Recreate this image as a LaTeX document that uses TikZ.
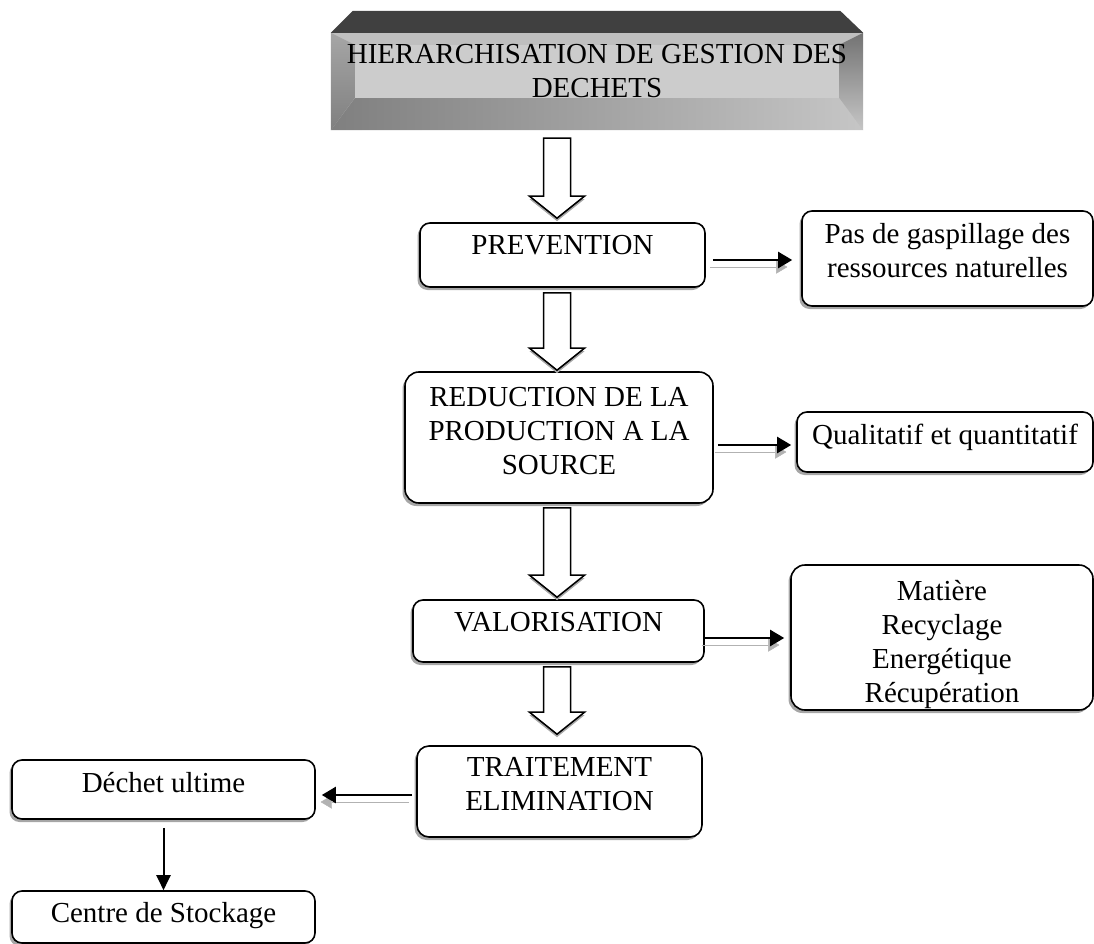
\documentclass[tikz,border=0pt]{standalone}
\usepackage{fontspec}
\setmainfont{Liberation Serif}
\usetikzlibrary{positioning, calc, arrows.meta, shadows, backgrounds}

\tikzset{
	stage/.style={draw, fill=white, line width=1.6pt, rounded corners=10pt, inner sep=0pt,
		drop shadow={shadow xshift=-2.5pt, shadow yshift=-3pt, opacity=1, fill=gray!70}},
	txt/.style={anchor=north, align=center, inner sep=0pt, yshift=-12.5pt},
	flow/.style={line width=2.2pt, -{Triangle[length=14pt, width=16pt]},
		preaction={draw=gray!60, transform canvas={shift={(-3pt,-7pt)}}}},
}

\begin{document}
\begin{tikzpicture}[x=1pt, y=-1pt, font={\fontsize{29}{34}\selectfont}]
\useasboundingbox (0,0) rectangle (1094,944);
% title
\node[minimum width=532pt, minimum height=97pt, inner sep=0pt,
	label={[txt, yshift=1.5pt]north:HIERARCHISATION DE GESTION DES\\DECHETS}] (title) at (597,81.5) {};
\begin{scope}[on background layer]
	\fill[gray!50] (title.north west) rectangle (title.south east);
	\fill[gray!40] ($(title.north west)+(24,12)$) rectangle ($(title.south east)+(-24,-32)$);
	\shade[top color=gray!70, bottom color=black!50] (title.north west) -- ++(24,12) -- ++(0,53) -- (title.south west) -- cycle;
	\shade[left color=black!50, right color=gray!45] (title.south west) -- ++(24,-32) -- ($(title.south east)+(-24,-32)$) -- (title.south east) -- cycle;
	\shade[top color=black!55, bottom color=gray!45] (title.north east) -- ++(-24,12) -- ++(0,53) -- (title.south east) -- cycle;
	\fill[black!75] (title.north west) -- ++(22,-22) -- ($(title.north east)+(-23,-22)$) -- (title.north east) -- cycle;
\end{scope}

% main column
\node[stage, minimum width=285pt, minimum height=64pt, label={[txt]north:PREVENTION}] (prev) at (562.5,255) {};
\node[stage, rounded corners=14pt, minimum width=308pt, minimum height=131pt,
	label={[txt, yshift=-3.5pt]north:REDUCTION DE LA\\PRODUCTION A LA\\SOURCE}] (red) at (559,437.5) {};
\node[stage, minimum width=291pt, minimum height=62pt, label={[txt]north:VALORISATION}] (val) at (558.5,631) {};
\node[stage, rounded corners=12pt, minimum width=285pt, minimum height=91pt,
	label={[txt, yshift=0.5pt]north:TRAITEMENT\\ELIMINATION}] (trait) at (559.5,791.5) {};

% right column
\node[stage, minimum width=291pt, minimum height=95pt, label={[txt]north:Pas de gaspillage des\\ressources naturelles}] (pas) at (947.5,258.5) {};
\node[stage, minimum width=296pt, minimum height=60pt, label={[txt]north:Qualitatif et quantitatif}] (qual) at (945,442) {};
\node[stage, rounded corners=14pt, minimum width=302pt, minimum height=145pt,
	label={[txt, yshift=-3.5pt]north:Matière\\Recyclage\\Energétique\\Récupération}] (mat) at (942,637.5) {};

% left column
\node[stage, minimum width=303pt, minimum height=59pt, label={[txt]north:Déchet ultime}] (dech) at (163.5,789.5) {};
\node[stage, minimum width=303pt, minimum height=52pt, label={[txt, yshift=1pt]north:Centre de Stockage}] (cent) at (163.5,917) {};

% hollow arrows
\coordinate (axis) at (557,0);
\foreach \a/\b/\ga/\gb in {title/prev/8/4, prev/red/5/1, red/val/4/2, val/trait/4/11} {
	\coordinate (s) at ($(axis |- \a.south)+(0,\ga)$);
	\coordinate (t) at ($(axis |- \b.north)+(0,-\gb)$);
	\fill[gray!70] ($(t)+(-27.5,-19)$) -- ($(t)+(0,3)$) -- ($(t)+(27.5,-19)$) -- cycle;
	\filldraw[fill=white, line width=1.5pt] ($(s)+(-13.5,0)$) -- ($(t)+(-13.5,-22)$) -- ($(t)+(-27.5,-22)$) -- (t)
		-- ($(t)+(27.5,-22)$) -- ($(t)+(13.5,-22)$) -- ($(s)+(13.5,0)$) -- cycle;
}

\draw[flow] ($(prev.east)+(7,5)$) -- ($(prev.east -| pas.west)+(-9,5)$);
\draw[flow] ($(red.east)+(4,7.5)$) -- ($(red.east -| qual.west)+(-5,7.5)$);
\draw[flow] ($(val.east)+(0,7)$) -- ($(val.east -| mat.west)+(-6,7)$);
\draw[flow] ($(trait.west)+(-4,3.5)$) -- ($(trait.west -| dech.east)+(6,3.5)$);
\draw[line width=2pt, -{Triangle[length=15pt, width=14pt]}] ($(dech.south)+(0,8)$) -- (cent.north);
\end{tikzpicture}
\end{document}
